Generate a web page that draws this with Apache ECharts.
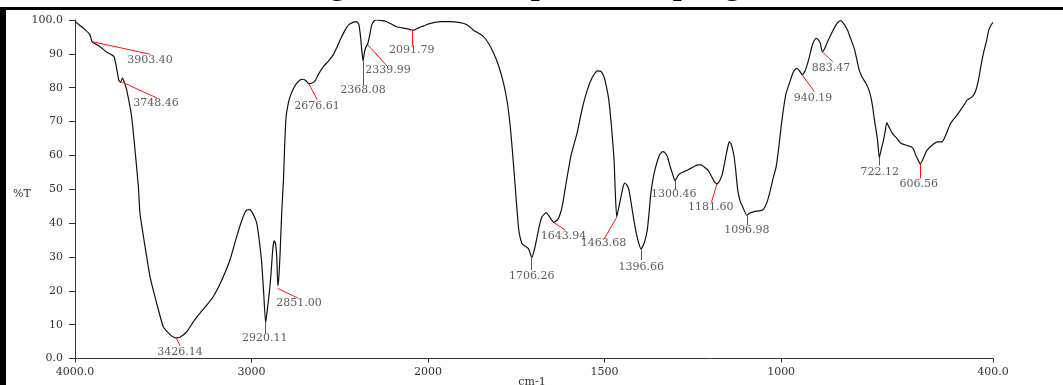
<!DOCTYPE html>
<html>
<head>
<meta charset="utf-8">
<script src="https://cdn.jsdelivr.net/npm/echarts@6/dist/echarts.min.js"></script>
<style>
  html, body { margin: 0; padding: 0; background: #fff; }
  #chart { width: 1063px; height: 385px; }
</style>
</head>
<body>
<div id="chart"></div>
<script>
// FTIR trace: wavenumber (cm-1) and %T
const wavenumbers = [
  4000, 3972, 3940, 3915, 3903.4, 3880, 3858, 3820, 3792, 3779, 3765, 3752, 3742, 3732, 3720, 3707,
  3679, 3660, 3641, 3632, 3603, 3575, 3537, 3500, 3460, 3440, 3426, 3405, 3367, 3330, 3292, 3250,
  3216, 3170, 3122, 3084, 3050, 3027, 3010, 2999, 2985, 2970, 2955, 2942, 2930, 2920, 2910, 2900,
  2891, 2880, 2872, 2864, 2857, 2851, 2845, 2838, 2829, 2819, 2812, 2804, 2795, 2782, 2760, 2744,
  2720, 2706, 2690, 2676.6, 2660, 2640, 2620, 2593, 2565, 2537, 2520, 2498, 2475, 2451, 2425, 2404,
  2392, 2382, 2375, 2368, 2360, 2351, 2342, 2330, 2319, 2305, 2290, 2260, 2234, 2200, 2177, 2140,
  2110, 2092, 2075, 2060, 2040, 2026, 2000,
  1966, 1940, 1909, 1890, 1871, 1843, 1828, 1814, 1800, 1786, 1776, 1767, 1760, 1753, 1748, 1743,
  1734, 1725, 1715, 1706, 1698, 1691, 1684, 1677, 1665, 1653, 1643.9, 1633, 1625, 1618, 1611, 1595,
  1578, 1563, 1549, 1535, 1521, 1510, 1502, 1495, 1488, 1480, 1473, 1470, 1465.7, 1460, 1455, 1448,
  1443, 1437, 1431, 1424, 1417, 1410, 1403, 1396.7, 1388, 1379, 1374, 1369, 1362, 1355, 1345, 1336,
  1329, 1322, 1315, 1308, 1300.5, 1292, 1285, 1275, 1265, 1250, 1237, 1227, 1218, 1208, 1198, 1189,
  1181.6, 1174, 1166, 1157, 1150, 1147, 1142, 1133, 1128, 1123, 1116, 1109, 1097, 1088, 1076, 1064,
  1052, 1045, 1038, 1031, 1024, 1014, 1007, 1000, 993, 986, 976, 967, 960, 955, 948, 940.2,
  932, 925, 919, 913, 907, 901, 895, 889, 883.5, 877, 871, 864, 855, 845, 838, 831,
  822, 812, 803, 793, 786, 779, 770, 760, 752, 746, 741, 737, 732, 727, 722, 716,
  710, 705, 701, 695, 685, 672, 661, 645, 633, 625, 619, 613, 606.6, 600, 593, 586,
  570, 558, 544, 532, 520, 505, 492, 480, 473, 459, 450, 441, 434, 427, 418, 412,
  405, 400
];
const transmittance = [
  99.6, 98.4, 97.0, 95.6, 93.6, 92.8, 92.1, 90.5, 89.7, 89.2, 86, 82.2, 81.6, 82.8, 81.5, 79.3,
  71.4, 61.6, 50.8, 42.9, 33.0, 24.2, 16.3, 9.4, 7.0, 6.3, 6.1, 6.3, 7.9, 10.8, 13.4, 16.0,
  18.3, 23, 29.1, 36.0, 41.5, 43.9, 44.0, 43.4, 42, 39.9, 34.5, 28.1, 18.5, 10.5, 14.5, 19,
  24, 32, 34.8, 34, 30, 21.5, 24, 31.1, 42.9, 52.7, 63, 71.4, 74.5, 77.3, 80.0, 81.3,
  82.4, 82.5, 82.0, 81.2, 81.3, 82.0, 84.0, 86.2, 87.8, 89.7, 91.5, 94.1, 96.5, 98.5, 99.3, 99.5,
  98.8, 95, 91, 87.8, 90.5, 92.1, 92.8, 95.5, 98.5, 99.7, 100.0, 99.8, 99.5, 98.6, 98.0, 97.6,
  97.3, 97.0, 97.1, 97.5, 98.0, 98.2, 98.8,
  99.5, 99.5, 99.2, 98.6, 97.0, 95.1, 93.0, 90.2, 86.5, 81.3, 76, 68.5, 60, 50.8, 44, 38.0,
  34.0, 33.2, 32.4, 29.8, 32.5, 36.0, 39.5, 41.9, 43.1, 41.4, 40.2, 41, 42.9, 46, 50.5, 60,
  66.5, 74, 79.3, 83, 85.0, 84.8, 83.3, 80.5, 76.4, 68, 58.6, 50, 41.8, 44.5, 47, 50.5,
  51.8, 51.3, 49.8, 45.5, 40.9, 37, 34.0, 32.3, 34, 38.0, 43, 48.8, 53.5, 56.7, 60, 61.1,
  60.8, 59.6, 57, 54.7, 52.5, 54, 54.7, 55.2, 55.7, 56.5, 57.2, 57.2, 56.6, 55.7, 54, 52.2,
  51.6, 52.5, 54.7, 59.5, 63, 64.0, 63.5, 59.6, 55, 49.8, 46.5, 44.8, 42.3, 43, 43.4, 43.6,
  43.9, 45, 46.8, 49.5, 52.7, 56.7, 62, 68.5, 74, 78.3, 81.5, 84.3, 85.4, 85.7, 85, 83.8,
  85, 87.2, 89.5, 92.1, 93.8, 94.6, 94.2, 93.1, 90.6, 91.5, 93, 94.6, 96.5, 98.5, 99.4, 99.8,
  98.8, 97.0, 94.5, 91.6, 88.5, 85.2, 83, 81.3, 79.5, 77.3, 74.5, 71.4, 68, 64.5, 59.3, 62.0,
  64.5, 67.3, 69.7, 68.5, 66.5, 65.0, 63.6, 63.0, 62.6, 61.8, 60.1, 58.8, 57.5, 58.5, 60.2, 61.6,
  63.2, 64.0, 64.0, 66.5, 69.5, 71.5, 73.4, 75.2, 76.4, 77.3, 78.8, 82.3, 86.5, 90.2, 94, 97.0,
  98.6, 99.3
];

// peak picks: label, point on trace, end of red leader, label centre
const peakLabels = ['3903.40', '3748.46', '3426.14', '2920.11', '2851.00', '2676.61', '2368.08', '2339.99', '2091.79',
  '1706.26', '1643.94', '1463.68', '1396.66', '1300.46', '1181.60', '1096.98', '940.19', '883.47', '722.12', '606.56'];
const peakWn = [3903.4, 3748.46, 3426.14, 2920.11, 2851.0, 2676.61, 2368.08, 2339.99, 2091.79,
  1706.26, 1643.94, 1465.68, 1396.66, 1300.46, 1181.6, 1096.98, 940.19, 883.47, 722.12, 606.56];
const peakT = [93.6, 82.0, 6.1, 10.9, 20.7, 81.3, 87.7, 92.6, 97.0,
  30.1, 40.2, 41.7, 32.5, 52.6, 51.6, 42.3, 83.8, 90.6, 59.3, 57.6];
const leaderWn = [3575, 3537, 3405, 2920.11, 2735, 2627, 2368.08, 2225, 2091.79,
  1706.26, 1611, 1502, 1396.66, 1300.46, 1197, 1096.98, 906, 854, 722.12, 606.56];
const leaderT = [89.9, 77.0, 3.8, 7.4, 17.8, 76.4, 80.8, 86.0, 92.6,
  26.1, 37.9, 35.2, 29.1, 49.8, 46.3, 39.4, 78.8, 87.7, 57.0, 53.2];
const labelWn = [3575, 3541, 3405, 2925, 2731, 2629, 2368, 2227, 2092,
  1706, 1616, 1503, 1396, 1304, 1199, 1097, 910, 859, 721, 610];
const labelT = [88.2, 75.4, 2.0, 6.0, 16.3, 74.6, 79.4, 85.2, 91.1,
  24.4, 36.2, 34.0, 26.9, 48.6, 44.7, 37.9, 77.0, 85.7, 55.0, 51.5];

const xTicksLeft = [4000, 3000, 2000];
const xTicksRight = [1500, 1000, 400];

const SPLIT = 2000; // scale doubles below 2000 cm-1
const FONT = '"DejaVu Serif", "Liberation Serif", serif';
const INK = '#333';

const leftPts = [], rightPts = [];
wavenumbers.forEach((w, i) => {
  if (w >= SPLIT) leftPts.push([w, transmittance[i]]);
  if (w <= SPLIT) rightPts.push([w, transmittance[i]]);
});

function peaksFor(side) {
  const lines = [], labels = [];
  peakWn.forEach((w, i) => {
    if ((side === 0) !== (w > SPLIT)) return;
    lines.push([{ coord: [w, peakT[i]] }, { coord: [leaderWn[i], leaderT[i]] }]);
    labels.push([labelWn[i], labelT[i], peakLabels[i]]);
  });
  return { lines, labels };
}
const pkL = peaksFor(0), pkR = peaksFor(1);

const fmtX = v => (v === 4000 ? '4000.0' : v === 400 ? '400.0' : String(v));
const fmtY = v => (v === 0 ? '0.0' : v === 100 ? '100.0' : String(v));

function xAxis(idx, min, max, ticks) {
  return {
    gridIndex: idx, type: 'value', min, max, inverse: true,
    axisLine: { lineStyle: { color: INK, width: 1 } },
    axisTick: { show: true, length: 4, lineStyle: { color: INK }, customValues: ticks },
    axisLabel: { customValues: ticks, formatter: fmtX, margin: 8, fontFamily: FONT, fontSize: 11, color: INK },
    splitLine: { show: false }
  };
}

function traceSeries(idx, data, lines) {
  return {
    type: 'line', xAxisIndex: idx, yAxisIndex: idx, data,
    showSymbol: false, smooth: 0.15, silent: true,
    lineStyle: { color: '#111', width: 1.2 },
    markLine: {
      silent: true, symbol: ['none', 'none'], animation: false,
      label: { show: false },
      lineStyle: { color: '#ff1010', width: 1, type: 'solid' },
      data: lines
    }
  };
}

function labelSeries(idx, data) {
  return {
    type: 'scatter', xAxisIndex: idx, yAxisIndex: idx, data,
    symbolSize: 1, itemStyle: { color: 'rgba(0,0,0,0)' }, silent: true,
    label: {
      show: true, position: 'inside', formatter: p => p.value[2],
      fontFamily: FONT, fontSize: 11, color: INK
    }
  };
}

const chart = echarts.init(document.getElementById('chart'));
chart.setOption({
  backgroundColor: '#fff',
  animation: false,
  grid: [
    { left: 75, top: 20, width: 353, bottom: 26.5 },
    { left: 428, top: 20, right: 70, bottom: 26.5 }
  ],
  xAxis: [
    xAxis(0, 2000, 4000, xTicksLeft),
    xAxis(1, 400, 2000, xTicksRight)
  ],
  yAxis: [
    {
      gridIndex: 0, type: 'value', min: 0, max: 100, interval: 10,
      axisLine: { show: true, lineStyle: { color: INK, width: 1 } },
      axisTick: { show: true, length: 6, lineStyle: { color: INK } },
      axisLabel: { formatter: fmtY, margin: 12, fontFamily: FONT, fontSize: 11, color: INK },
      splitLine: { show: false }
    },
    { gridIndex: 1, type: 'value', min: 0, max: 100, show: false, splitLine: { show: false } }
  ],
  series: [
    traceSeries(0, leftPts, pkL.lines),
    traceSeries(1, rightPts, pkR.lines),
    labelSeries(0, pkL.labels),
    labelSeries(1, pkR.labels)
  ],
  graphic: [
    {
      // caption of the page above, mostly cut off by the crop
      type: 'text', x: 301, y: 1.5, z: 10,
      style: {
        text: 'Figure 4: FTIR spectra of sponge', font: 'bold 32px "Liberation Serif"', fill: '#000',
        textAlign: 'left', textVerticalAlign: 'bottom', verticalAlign: 'bottom'
      }
    },
    { type: 'text', x: 22, y: 194, style: { text: '%T', font: '11px ' + FONT, fill: INK, textAlign: 'center', textVerticalAlign: 'middle', verticalAlign: 'middle' } },
    { type: 'text', x: 532, y: 382, style: { text: 'cm-1', font: '11px ' + FONT, fill: INK, textAlign: 'center', textVerticalAlign: 'middle', verticalAlign: 'middle' } },
    { type: 'rect', z: 20, shape: { x: 0, y: 7, width: 1063, height: 3 }, style: { fill: '#000' } },
    { type: 'rect', z: 20, shape: { x: 0, y: 7, width: 6, height: 378 }, style: { fill: '#000' } }
  ]
});
</script>
</body>
</html>
